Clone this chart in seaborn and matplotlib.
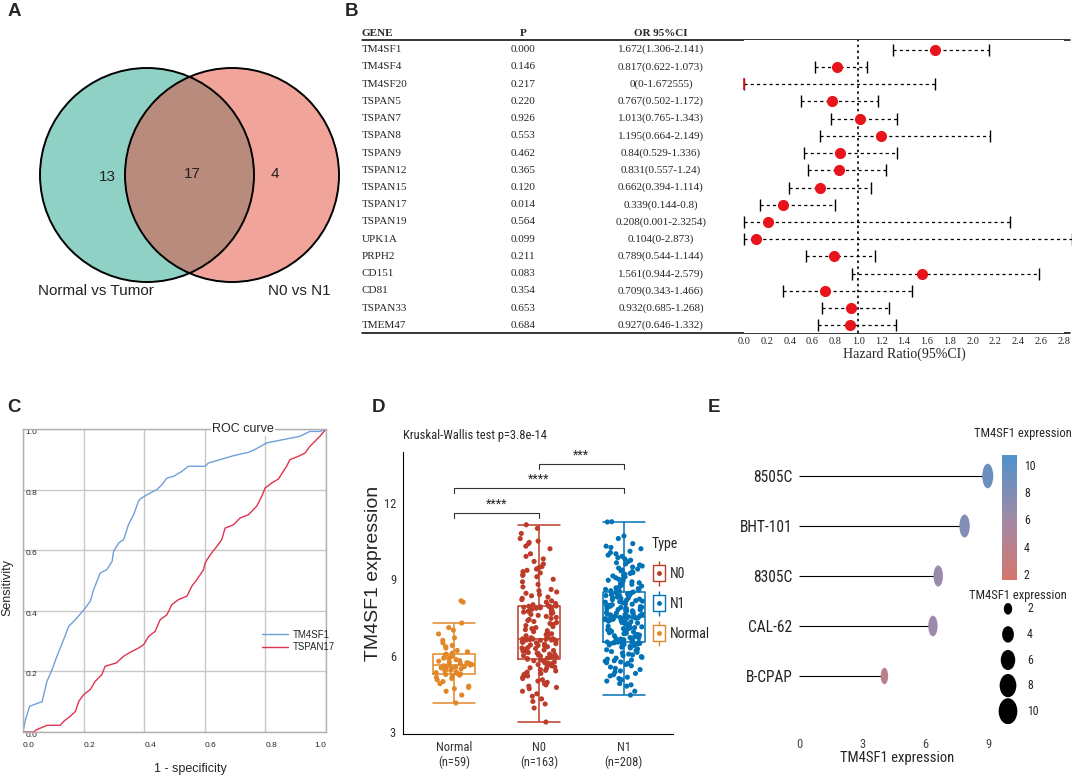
import numpy as np
import pandas as pd
import matplotlib
matplotlib.use("Agg")
import matplotlib.pyplot as plt
import seaborn as sns
from matplotlib import font_manager
from matplotlib.patches import Circle
from matplotlib.path import Path
from matplotlib.transforms import Affine2D, blended_transform_factory
from matplotlib.lines import Line2D
from matplotlib.colors import LinearSegmentedColormap, Normalize
from matplotlib.cm import ScalarMappable

# ======================= DATA =======================
# A: Venn
venn_names = ["Normal vs Tumor", "N0 vs N1"]
venn_counts = [13, 17, 4]          # only left, shared, only right

# B: forest table
genes = ["TM4SF1", "TM4SF4", "TM4SF20", "TSPAN5", "TSPAN7", "TSPAN8", "TSPAN9",
         "TSPAN12", "TSPAN15", "TSPAN17", "TSPAN19", "UPK1A", "PRPH2", "CD151",
         "CD81", "TSPAN33", "TMEM47"]
p_text = ["0.000", "0.146", "0.217", "0.220", "0.926", "0.553", "0.462", "0.365",
          "0.120", "0.014", "0.564", "0.099", "0.211", "0.083", "0.354", "0.653", "0.684"]
or_vals = [1.672, 0.817, 0, 0.767, 1.013, 1.195, 0.84, 0.831, 0.662, 0.339, 0.208,
           0.104, 0.789, 1.561, 0.709, 0.932, 0.927]
ci_low = [1.306, 0.622, 0, 0.502, 0.765, 0.664, 0.529, 0.557, 0.394, 0.144, 0.001,
          0, 0.544, 0.944, 0.343, 0.685, 0.646]
ci_high = [2.141, 1.073, 1.672555, 1.172, 1.343, 2.149, 1.336, 1.24, 1.114, 0.8,
           2.3254, 2.873, 1.144, 2.579, 1.466, 1.268, 1.332]
ci_text = ["1.672(1.306-2.141)", "0.817(0.622-1.073)", "0(0-1.672555)", "0.767(0.502-1.172)",
           "1.013(0.765-1.343)", "1.195(0.664-2.149)", "0.84(0.529-1.336)", "0.831(0.557-1.24)",
           "0.662(0.394-1.114)", "0.339(0.144-0.8)", "0.208(0.001-2.3254)", "0.104(0-2.873)",
           "0.789(0.544-1.144)", "1.561(0.944-2.579)", "0.709(0.343-1.466)", "0.932(0.685-1.268)",
           "0.927(0.646-1.332)"]
hr_ticks = [0.0, 0.2, 0.4, 0.6, 0.8, 1.0, 1.2, 1.4, 1.6, 1.8, 2.0, 2.2, 2.4, 2.6, 2.8]

# C: ROC curves
tm_fpr = [0, 0.008, 0.022, 0.035, 0.063, 0.079, 0.096, 0.112, 0.134, 0.151, 0.173, 0.2,
          0.222, 0.233, 0.244, 0.255, 0.277, 0.294, 0.299, 0.316, 0.332, 0.348, 0.365,
          0.381, 0.387, 0.409, 0.442, 0.458, 0.475, 0.497, 0.524, 0.546, 0.601, 0.612,
          0.651, 0.695, 0.744, 0.765, 0.804, 0.859, 0.914, 0.947, 0.98, 1.0]
tm_tpr = [0, 0.04, 0.085, 0.09, 0.10, 0.167, 0.206, 0.25, 0.305, 0.349, 0.371, 0.402,
          0.431, 0.47, 0.497, 0.525, 0.536, 0.563, 0.596, 0.624, 0.635, 0.684, 0.717,
          0.761, 0.769, 0.783, 0.8, 0.816, 0.838, 0.844, 0.86, 0.877, 0.877, 0.888,
          0.899, 0.912, 0.923, 0.932, 0.954, 0.965, 0.976, 0.992, 0.992, 1.0]
ts_fpr = [0, 0.035, 0.046, 0.079, 0.123, 0.134, 0.156, 0.173, 0.184, 0.2, 0.222, 0.238,
          0.26, 0.271, 0.288, 0.308, 0.332, 0.354, 0.381, 0.398, 0.415, 0.436, 0.453,
          0.475, 0.491, 0.513, 0.541, 0.557, 0.574, 0.596, 0.601, 0.618, 0.64, 0.656,
          0.667, 0.695, 0.716, 0.744, 0.771, 0.788, 0.799, 0.821, 0.843, 0.87, 0.881,
          0.909, 0.931, 0.947, 0.98, 1.0]
ts_tpr = [0, 0, 0.008, 0.022, 0.022, 0.035, 0.052, 0.068, 0.101, 0.123, 0.14, 0.167,
          0.189, 0.217, 0.222, 0.228, 0.25, 0.263, 0.277, 0.288, 0.316, 0.332, 0.371,
          0.387, 0.42, 0.437, 0.448, 0.481, 0.503, 0.536, 0.558, 0.585, 0.613, 0.635,
          0.673, 0.684, 0.706, 0.717, 0.745, 0.778, 0.805, 0.822, 0.835, 0.877, 0.899,
          0.91, 0.921, 0.943, 0.976, 1.0]
roc_ticks = [0.0, 0.2, 0.4, 0.6, 0.8, 1.0]

# D: TM4SF1 expression by group
expr_normal = [4.14, 4.45, 4.6, 4.7, 4.75, 4.8, 4.9, 4.98, 5.05, 5.1, 5.15, 5.2, 5.23, 5.26, 5.28,
               5.3, 5.33, 5.36, 5.4, 5.42, 5.45, 5.48, 5.5, 5.52, 5.55, 5.57, 5.59, 5.6, 5.62, 5.63,
               5.65, 5.68, 5.7, 5.72, 5.75, 5.78, 5.8, 5.84, 5.88, 5.9, 5.95, 5.98, 6.02, 6.06, 6.1,
               6.15, 6.2, 6.3, 6.35, 6.4, 6.5, 6.6, 6.7, 6.85, 7.0, 7.1, 7.28, 8.1, 8.15]
expr_n0 = [3.39, 3.94, 4.1, 4.2, 4.3, 4.4, 4.5, 4.6, 4.7, 4.75, 4.8, 4.85, 4.9, 4.95, 5.0, 5.05,
           5.1, 5.15, 5.2, 5.22, 5.25, 5.28, 5.3, 5.35, 5.4, 5.42, 5.45, 5.5, 5.52, 5.55, 5.6,
           5.62, 5.65, 5.68, 5.7, 5.72, 5.75, 5.78, 5.8, 5.83, 5.86,
           5.88, 5.9, 5.92, 5.94, 5.96, 5.98, 6.0, 6.02, 6.04, 6.06, 6.08, 6.1, 6.12, 6.15, 6.18,
           6.2, 6.22, 6.25, 6.28, 6.3, 6.32, 6.35, 6.38, 6.4, 6.42, 6.45, 6.47, 6.5, 6.52, 6.54,
           6.56, 6.58, 6.6, 6.61, 6.62, 6.63, 6.64, 6.645, 6.65, 6.655,
           6.66, 6.7, 6.74, 6.78, 6.82, 6.86, 6.9, 6.94, 6.98, 7.02, 7.06, 7.1, 7.14, 7.18, 7.22,
           7.26, 7.3, 7.34, 7.38, 7.42, 7.46, 7.5, 7.54, 7.58, 7.62, 7.65, 7.68, 7.71, 7.74, 7.77,
           7.8, 7.82, 7.84, 7.86, 7.88, 7.9, 7.91, 7.92, 7.93, 7.94, 7.95,
           7.97, 8.0, 8.05, 8.1, 8.15, 8.2, 8.25, 8.3, 8.35, 8.4, 8.45, 8.5, 8.55, 8.6, 8.7, 8.8,
           8.9, 9.0, 9.1, 9.15, 9.2, 9.25, 9.3, 9.35, 9.4, 9.45, 9.5, 9.6, 9.7, 9.8, 9.9, 10.0,
           10.2, 10.3, 10.4, 10.45, 10.5, 10.6, 10.8, 11.0, 11.14]
expr_n1 = [4.45, 4.6, 4.8, 4.85, 4.9, 5.0, 5.05, 5.1, 5.15, 5.2, 5.25, 5.3, 5.35, 5.4, 5.45, 5.5,
           5.55, 5.6, 5.65, 5.7, 5.72, 5.75, 5.78, 5.8, 5.83, 5.86, 5.9, 5.93, 5.96, 6.0, 6.03,
           6.06, 6.1, 6.13, 6.16, 6.2, 6.23, 6.26, 6.3, 6.33, 6.36, 6.38, 6.4, 6.42, 6.44, 6.46,
           6.48, 6.5, 6.51, 6.52, 6.53, 6.535,
           6.54, 6.55, 6.58, 6.61, 6.62, 6.65, 6.67, 6.7, 6.71, 6.74, 6.77, 6.78, 6.81, 6.83, 6.86,
           6.88, 6.9, 6.93, 6.95, 6.97, 7.0, 7.01, 7.04, 7.06, 7.09, 7.1, 7.13, 7.15, 7.17, 7.2,
           7.22, 7.24, 7.26, 7.28, 7.3, 7.31, 7.33, 7.35, 7.37, 7.39, 7.4, 7.42, 7.43, 7.44, 7.45,
           7.46, 7.47, 7.48, 7.49, 7.5, 7.51, 7.515,
           7.53, 7.55, 7.57, 7.58, 7.6, 7.62, 7.63, 7.65, 7.67, 7.69, 7.7, 7.72, 7.74, 7.76, 7.78,
           7.8, 7.81, 7.83, 7.85, 7.87, 7.89, 7.9, 7.92, 7.94, 7.96, 7.98, 8.0, 8.02, 8.04, 8.06,
           8.08, 8.1, 8.12, 8.14, 8.16, 8.18, 8.2, 8.22, 8.24, 8.26, 8.28, 8.3, 8.32, 8.34, 8.36,
           8.38, 8.4, 8.42, 8.44, 8.46, 8.48, 8.49,
           8.5, 8.52, 8.55, 8.58, 8.6, 8.63, 8.66, 8.7, 8.73, 8.76, 8.8, 8.83, 8.86, 8.9, 8.93,
           8.96, 9.0, 9.03, 9.06, 9.1, 9.13, 9.16, 9.2, 9.23, 9.26, 9.3, 9.33, 9.36, 9.4, 9.44,
           9.48, 9.52, 9.56, 9.6, 9.65, 9.7, 9.75, 9.8, 9.85, 9.9, 9.95, 10.0, 10.05, 10.1, 10.2,
           10.25, 10.3, 10.4, 10.6, 10.7, 11.25, 11.26]
group_order = ["Normal", "N0", "N1"]
legend_order = ["N0", "N1", "Normal"]
group_colors = {"N0": "#BC3C29", "N1": "#0072B5", "Normal": "#E18727"}
sig_pairs = [(0, 1), (0, 2), (1, 2)]
sig_labels = ["****", "****", "***"]
sig_heights = [11.61, 12.6, 13.54]
d_yticks = [3, 6, 9, 12]

# E: cell lines
cells = ["8505C", "BHT-101", "8305C", "CAL-62", "B-CPAP"]
cell_expr = [8.95, 7.85, 6.6, 6.35, 4.05]
e_xticks = [0, 3, 6, 9]
cbar_ticks = [2, 4, 6, 8, 10]
size_levels = [2, 4, 6, 8, 10]

# ======================= STYLE =======================
sns.set_style("white")
_names = {f.name for f in font_manager.fontManager.ttflist}
SANS = "Liberation Sans" if "Liberation Sans" in _names else "DejaVu Sans"
SERIF = "Liberation Serif" if "Liberation Serif" in _names else "DejaVu Serif"
if "Liberation Sans Narrow" in _names:
    NARROW, NS = "Liberation Sans Narrow", 1.0
elif "Roboto Condensed" in _names:
    NARROW, NS = "Roboto Condensed", 1.0
else:
    NARROW, NS = SANS, 0.82
plt.rcParams["font.family"] = [SANS, "DejaVu Sans"]

W, H = 1072, 777
fig = plt.figure(figsize=(W / 100, H / 100), dpi=100)


def pax(x0, y0, x1, y1):
    return fig.add_axes([x0 / W, 1 - y1 / H, (x1 - x0) / W, (y1 - y0) / H])


ov = fig.add_axes([0, 0, 1, 1])
ov.set_xlim(0, W)
ov.set_ylim(H, 0)
ov.axis("off")

# panel letters
for lab, (lx, ly) in zip("ABCDE", [(8, 12), (345, 12), (7, 408), (372, 408), (708, 408)]):
    ov.text(lx, ly, lab, fontsize=13.5, fontweight="bold", ha="left", va="center")

# ======================= A: Venn =======================
r = 107
cl = (147, 175)
cr = (232, 175)
c_left = Circle(cl, r, fc="#8fd1c4", ec="none")
c_right = Circle(cr, r, fc="#f1a59a", ec="none")
ov.add_patch(c_left)
ov.add_patch(c_right)
c_int = Circle(cl, r, fc="#b98b7c", ec="none")
ov.add_patch(c_int)
c_int.set_clip_path(c_right)
for c in (cl, cr):
    ov.add_patch(Circle(c, r, fill=False, ec="black", lw=1.4))
for txt, (tx, ty) in zip(venn_counts, [(107, 177), (192, 174), (275, 174)]):
    ov.text(tx, ty, str(txt), fontsize=11, ha="center", va="center", color="#222222")
ov.text(38, 291, venn_names[0], fontsize=11, ha="left", va="center", color="#222222")
ov.text(268, 291, venn_names[1], fontsize=11, ha="left", va="center", color="#222222")

# ======================= B: Forest =======================
TX = 362          # table left edge (px)
fax = pax(744, 40, 1064, 333)
nrow = len(genes)
rows = np.arange(nrow)
fax.set_xlim(0, 2.8)
fax.set_ylim(16.435, -0.551)
for s in fax.spines.values():
    s.set_visible(False)
fax.set_yticks([])
fax.set_xticks(hr_ticks)
fax.set_xticklabels([f"{t:.1f}" for t in hr_ticks], fontfamily=SERIF, fontsize=7.5)
fax.tick_params(axis="x", length=0, pad=3)
fax.set_xlabel("Hazard Ratio(95%CI)", fontfamily=SERIF, fontsize=10, labelpad=1)
fax.axvline(1.0, color="black", ls=(0, (1.5, 2)), lw=1.2, zorder=1)
for i in rows:
    fax.plot([ci_low[i], ci_high[i]], [i, i], color="black", lw=0.9, ls=(0, (2.5, 2.5)),
             clip_on=False, zorder=2)
fax.plot(ci_low, rows, ls="", marker="|", ms=8, mew=1, color="black", clip_on=False, zorder=3)
fax.plot(ci_high, rows, ls="", marker="|", ms=8, mew=1, color="black", clip_on=False, zorder=3)
pos_or = [(v, i) for i, v in enumerate(or_vals) if v > 0]
zero_or = [(v, i) for i, v in enumerate(or_vals) if v == 0]
fax.plot([p[0] for p in pos_or], [p[1] for p in pos_or], ls="", marker="o", ms=7,
         color="#e8141c", zorder=4, clip_on=False)
fax.plot([p[0] for p in zero_or], [p[1] for p in zero_or], ls="", marker="|", ms=8, mew=1.2,
         color="#e8141c", zorder=4, clip_on=False)

ttr = blended_transform_factory(ov.transData, fax.transData)
hdr_y = -0.95
TFS = 8
fax.text(TX, hdr_y, "GENE", transform=ttr, fontfamily=SERIF, fontsize=TFS, fontweight="bold",
         ha="left", va="center")
fax.text(523, hdr_y, "P", transform=ttr, fontfamily=SERIF, fontsize=TFS, fontweight="bold",
         ha="center", va="center")
fax.text(661, hdr_y, "OR 95%CI", transform=ttr, fontfamily=SERIF, fontsize=TFS,
         fontweight="bold", ha="center", va="center")
for i in rows:
    fax.text(TX, i, genes[i], transform=ttr, fontfamily=SERIF, fontsize=TFS, ha="left",
             va="center")
    fax.text(523, i, p_text[i], transform=ttr, fontfamily=SERIF, fontsize=TFS, ha="center",
             va="center")
    fax.text(661, i, ci_text[i], transform=ttr, fontfamily=SERIF, fontsize=TFS, ha="center",
             va="center")
ov.plot([TX, 1070], [40, 40], color="black", lw=1.1)
ov.plot([TX, 1070], [333, 333], color="black", lw=1.1)

# ======================= C: ROC =======================
cax = pax(23, 429, 326, 732)
cax.plot(tm_fpr, tm_tpr, color="#6fa0dc", lw=1, label="TM4SF1")
cax.plot(ts_fpr, ts_tpr, color="#e0334f", lw=1, label="TSPAN17")
cax.set_xlim(0, 1)
cax.set_ylim(0, 1)
cax.set_xticks(roc_ticks)
cax.set_yticks(roc_ticks)
cax.set_xticklabels([f"{t:.1f}" for t in roc_ticks], fontsize=6)
cax.set_yticklabels([f"{t:.1f}" for t in roc_ticks], fontsize=6)
cax.grid(True, color="#c8c8c8", lw=1)
cax.set_axisbelow(True)
for s in cax.spines.values():
    s.set_color("#b0b0b0")
    s.set_linewidth(1)
cax.tick_params(axis="x", length=0, pad=7)
cax.tick_params(axis="y", length=0, pad=-2)
for lab in cax.get_yticklabels():
    lab.set_ha("left")
    lab.set_va("top")
xl = cax.get_xticklabels()
for k, lab in enumerate(xl):
    lab.set_ha("right" if k == len(xl) - 1 else "left")
cax.text(0.726, 1.0, "ROC curve", transform=cax.transAxes, ha="center", va="center",
         fontsize=9, bbox=dict(fc="white", ec="none", pad=0.5))
ov.text(7, 587, "Sensitivity", rotation=90, ha="center", va="center", fontsize=9)
ov.text(190, 769, "1 - specificity", ha="center", va="center", fontsize=9)
cax.legend(loc="center left", bbox_to_anchor=(262, 641), bbox_transform=ov.transData,
           frameon=False, fontsize=7, handlelength=2.7, handletextpad=0.5, labelspacing=0.3,
           borderaxespad=0, borderpad=0)

# ======================= D: box + jitter =======================
dax = pax(403, 452, 673, 734)
df = pd.DataFrame({
    "Type": ["Normal"] * len(expr_normal) + ["N0"] * len(expr_n0) + ["N1"] * len(expr_n1),
    "expr": expr_normal + expr_n0 + expr_n1,
})
box_kw = dict(data=df, x="Type", y="expr", order=group_order, hue="Type",
              hue_order=group_order, palette=group_colors, fill=False, width=0.5, whis=1.6,
              showfliers=False, linewidth=1.1, ax=dax, legend=False)
try:
    sns.boxplot(capwidths=0.5, **box_kw)
except TypeError:
    dax.cla()
    sns.boxplot(**box_kw)
np.random.seed(3)
sns.stripplot(data=df, x="Type", y="expr", order=group_order, hue="Type",
              hue_order=group_order, palette=group_colors, jitter=0.22, size=3.7,
              linewidth=0, ax=dax, legend=False, zorder=3)
dax.set_xlim(-0.6, 2.58)
dax.set_ylim(2.92, 14.0)
dax.set_yticks(d_yticks)
dax.set_yticklabels([str(t) for t in d_yticks], fontfamily=NARROW, fontsize=9 * NS,
                    color="#333333")
counts = {"Normal": len(expr_normal), "N0": len(expr_n0), "N1": len(expr_n1)}
dax.set_xticks(range(len(group_order)))
dax.set_xticklabels([f"{g}\n(n={counts[g]})" for g in group_order], fontfamily=NARROW,
                    fontsize=9 * NS, color="#333333", linespacing=1.15)
dax.set_xlabel("")
dax.set_ylabel("TM4SF1 expression", fontsize=14)
dax.yaxis.set_label_coords(-0.078, 0.57)
for sname in ("top", "right"):
    dax.spines[sname].set_visible(False)
for sname in ("left", "bottom"):
    dax.spines[sname].set_color("black")
    dax.spines[sname].set_linewidth(0.8)
dax.tick_params(axis="both", length=3, width=0.8, color="black", pad=2)
drop = 0.2
for (a, b), lab, hy in zip(sig_pairs, sig_labels, sig_heights):
    dax.plot([a, a, b, b], [hy - drop, hy, hy, hy - drop], color="#333333", lw=0.8)
    dax.text((a + b) / 2, hy + 0.08, lab, ha="center", va="bottom", fontsize=9 * NS,
             fontfamily=NARROW)
dax.text(0.0, 1.06, "Kruskal-Wallis test p=3.8e-14", transform=dax.transAxes, ha="left",
         va="center", fontsize=9 * NS, fontfamily=NARROW)

rect_marker = Path([(-0.375, -0.5), (0.375, -0.5), (0.375, 0.5), (-0.375, 0.5), (-0.375, -0.5)],
                   closed=True)
handles = []
for g in legend_order:
    col = group_colors[g]
    handles.append((
        Line2D([], [], color=col, marker="|", ms=18, mew=1, ls=""),
        Line2D([], [], color=col, marker=rect_marker, ms=11.5, mfc="white", mew=1, ls=""),
        Line2D([], [], color=col, marker="o", ms=2.5, ls=""),
    ))
dax.legend(handles, legend_order, title="Type", loc="upper left", bbox_to_anchor=(652, 537),
           bbox_transform=ov.transData, frameon=False, numpoints=1, handlelength=1.0,
           handletextpad=0.3, labelspacing=1.15, borderaxespad=0, borderpad=0,
           alignment="left", prop={"family": NARROW, "size": 10 * NS},
           title_fontproperties={"family": NARROW, "size": 10 * NS})

# ======================= E: lollipop =======================
cmap = LinearSegmentedColormap.from_list("tm", ["#d4766c", "#a08aa8", "#4f92cb"])
norm = Normalize(vmin=1.56, vmax=10.73)
eax = pax(795, 445, 1000, 730)
erows = np.arange(len(cells))
eax.hlines(erows, 0, cell_expr, color="black", lw=0.8, zorder=1)
ell_plot = Affine2D().scale(0.45, 1.0).transform_path(Path.unit_circle())
size_k = 34.9
eax.scatter(cell_expr, erows, s=[size_k * v for v in cell_expr], c=cell_expr, cmap=cmap,
            norm=norm, marker=ell_plot, linewidths=0, zorder=3)
eax.set_xlim(-0.19, 9.53)
eax.set_ylim(5.08, -0.62)
eax.set_yticks(erows)
eax.set_yticklabels(cells, fontfamily=NARROW, fontsize=11.2 * NS, color="#222222")
eax.set_xticks(e_xticks)
eax.set_xticklabels([str(t) for t in e_xticks], fontfamily=NARROW, fontsize=9 * NS,
                    color="#444444")
eax.tick_params(axis="both", length=0)
eax.tick_params(axis="y", pad=2)
eax.tick_params(axis="x", pad=6)
for s in eax.spines.values():
    s.set_visible(False)
eax.set_facecolor("none")
eax.set_xlabel("TM4SF1 expression", fontfamily=NARROW, fontsize=10.5 * NS, labelpad=0)

cbax = pax(1002, 455, 1017, 580)
cb = fig.colorbar(ScalarMappable(norm=norm, cmap=cmap), cax=cbax)
cb.outline.set_visible(False)
cb.set_ticks(cbar_ticks)
cb.set_ticklabels([str(t) for t in cbar_ticks])
cbax.tick_params(length=3, width=0.8, color="white", direction="in", pad=5)
for lab in cbax.get_yticklabels():
    lab.set_fontfamily(NARROW)
    lab.set_fontsize(8.5 * NS)
    lab.set_color("#222222")
ov.text(1023, 434, "TM4SF1 expression", ha="center", va="center", fontfamily=NARROW,
        fontsize=9 * NS)

sax = pax(995, 596, 1072, 724)
sax.axis("off")
sax.set_xlim(-13, 64)
srows = np.arange(len(size_levels))
sax.set_ylim(len(size_levels) - 0.5, -0.5)
ell_leg = Affine2D().scale(0.72, 1.0).transform_path(Path.unit_circle())
sax.scatter([0] * len(size_levels), srows, s=[size_k * v for v in size_levels], c="black",
            marker=ell_leg, linewidths=0)
for i, v in zip(srows, size_levels):
    sax.text(19, i, str(v), ha="left", va="center", fontfamily=NARROW, fontsize=8.5 * NS,
             color="#222222")
ov.text(1018, 595, "TM4SF1 expression", ha="center", va="center", fontfamily=NARROW,
        fontsize=9 * NS)

fig.savefig("out.png", dpi=100)
